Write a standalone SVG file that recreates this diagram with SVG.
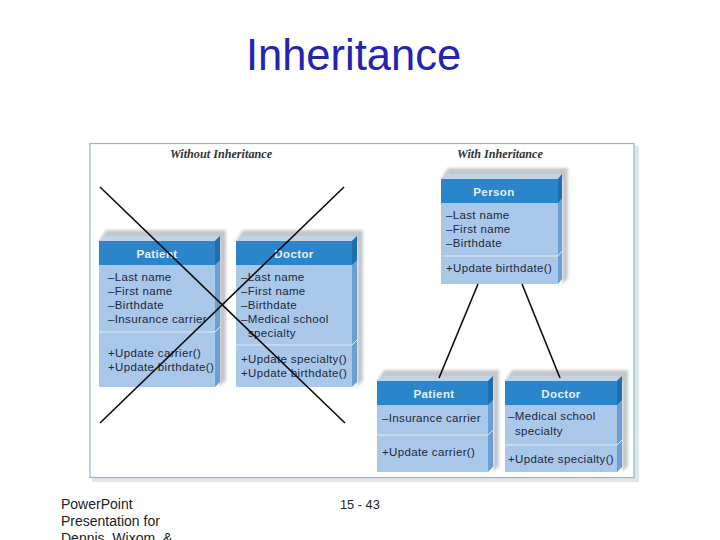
<svg xmlns="http://www.w3.org/2000/svg" width="720" height="540" viewBox="0 0 720 540">
<style>
.t{font-family:"Liberation Sans",Arial,sans-serif}
.hd{font-family:"Liberation Sans",Arial,sans-serif;font-size:11.5px;font-weight:bold;fill:#e4f0fa;text-anchor:middle;letter-spacing:.4px}
.b{font-family:"Liberation Sans",Arial,sans-serif;font-size:11.5px;fill:#20283a;letter-spacing:.35px}
.cap{font-family:"Liberation Serif",serif;font-size:12.2px;font-style:italic;font-weight:bold;fill:#333;text-anchor:middle}
.face{fill:#a9c7e9}.head{fill:#2b85cb}.side{fill:#6a9fd2}.sideh{fill:#1f6fb0}.top{fill:#c3d3e6}
.sh{fill:#c4c7ca;filter:url(#bl)}
.div{stroke:#dfeaf6;stroke-width:1;fill:none}
.x{stroke:#0c0c0c;stroke-width:1.6;fill:none}
.c{stroke:#0c0c0c;stroke-width:1.6;fill:none}
</style>
<defs>
<filter id="bl" x="-20%" y="-20%" width="140%" height="140%"><feGaussianBlur stdDeviation="1.6"/></filter>
</defs>
<rect width="720" height="540" fill="#fff"/>
<text class="t" x="353.500" y="70" font-size="43.500" fill="#2424b0" text-anchor="middle">Inheritance</text>
<g id="panel">
<rect x="92" y="146" width="547" height="336" fill="#dfe6ea"/>
<rect x="90" y="143.500" width="544" height="334" fill="#fff" stroke="#8fb9c6" stroke-width="1.2"/>
<text class="cap" x="221" y="158">Without Inheritance</text>
<text class="cap" x="500" y="158">With Inheritance</text>
</g>
<g id="patient-a">
<path class="sh" d="M106 230H226V380L219 387V241H99Z"/>
<path class="top" d="M99 241L104 236H220L215 241Z"/>
<rect class="face" x="99" y="241" width="116" height="146"/>
<rect class="head" x="99" y="241" width="116" height="24"/>
<path class="side" d="M215 241L220 236V382L215 387Z"/>
<path class="sideh" d="M215 241L220 236V260L215 265Z"/>
<path class="div" d="M99 332H215L220 327"/>
<text class="hd" x="157" y="258">Patient</text>
<text class="b" x="108" y="281">–Last name</text>
<text class="b" x="108" y="295">–First name</text>
<text class="b" x="108" y="309">–Birthdate</text>
<text class="b" x="108" y="323">–Insurance carrier</text>
<text class="b" x="108" y="357">+Update carrier()</text>
<text class="b" x="108" y="371">+Update birthdate()</text>
</g>
<g id="doctor-a">
<path class="sh" d="M243 230H363V380L357 387V241H236Z"/>
<path class="top" d="M236 241L241 236H357L352 241Z"/>
<rect class="face" x="236" y="241" width="116" height="146"/>
<rect class="head" x="236" y="241" width="116" height="24"/>
<path class="side" d="M352 241L357 236V382L352 387Z"/>
<path class="sideh" d="M352 241L357 236V260L352 265Z"/>
<path class="div" d="M236 345H352L357 340"/>
<text class="hd" x="294" y="258">Doctor</text>
<text class="b" x="241" y="281">–Last name</text>
<text class="b" x="241" y="295">–First name</text>
<text class="b" x="241" y="309">–Birthdate</text>
<text class="b" x="241" y="323">–Medical school</text>
<text class="b" x="248" y="337">specialty</text>
<text class="b" x="241" y="363">+Update specialty()</text>
<text class="b" x="241" y="377">+Update birthdate()</text>
</g>
<g id="person">
<path class="sh" d="M448 168H568V278L562 284V179H441Z"/>
<path class="top" d="M441 179L446 174H562L557 179Z"/>
<rect class="face" x="441" y="179" width="117" height="105"/>
<rect class="head" x="441" y="179" width="117" height="24"/>
<path class="side" d="M558 179L562 174V279L558 284Z"/>
<path class="sideh" d="M558 179L562 174V198L558 203Z"/>
<path class="div" d="M441 256H558L562 251"/>
<text class="hd" x="494" y="196">Person</text>
<text class="b" x="446" y="219">–Last name</text>
<text class="b" x="446" y="233">–First name</text>
<text class="b" x="446" y="247">–Birthdate</text>
<text class="b" x="446" y="272">+Update birthdate()</text>
</g>
<g id="patient-b">
<path class="sh" d="M384 370H499V466L493 472V381H377Z"/>
<path class="top" d="M377 381L382 376H493L488 381Z"/>
<rect class="face" x="377" y="381" width="111" height="91"/>
<rect class="head" x="377" y="381" width="111" height="24"/>
<path class="side" d="M488 381L493 376V467L488 472Z"/>
<path class="sideh" d="M488 381L493 376V400L488 405Z"/>
<path class="div" d="M377 435H488L493 430"/>
<text class="hd" x="434" y="398">Patient</text>
<text class="b" x="382" y="422">–Insurance carrier</text>
<text class="b" x="382" y="456">+Update carrier()</text>
</g>
<g id="doctor-b">
<path class="sh" d="M512 370H628V466L622 472V381H505Z"/>
<path class="top" d="M505 381L510 376H622L617 381Z"/>
<rect class="face" x="505" y="381" width="112" height="91"/>
<rect class="head" x="505" y="381" width="112" height="24"/>
<path class="side" d="M617 381L622 376V467L617 472Z"/>
<path class="sideh" d="M617 381L622 376V400L617 405Z"/>
<path class="div" d="M505 445H617L622 440"/>
<text class="hd" x="561" y="398">Doctor</text>
<text class="b" x="508" y="420">–Medical school</text>
<text class="b" x="515" y="435">specialty</text>
<text class="b" x="508" y="463">+Update specialty()</text>
</g>
<g id="connectors">
<path class="x" d="M100 187L345 423"/>
<path class="x" d="M344 187L100 423"/>
<path class="c" d="M478 284L439 378"/>
<path class="c" d="M522 284L560 378"/>
</g>
<g id="footer">
<text class="t" x="61" y="509" font-size="14" fill="#222">PowerPoint</text>
<text class="t" x="61" y="526" font-size="14" fill="#222">Presentation for</text>
<text class="t" x="61" y="543" font-size="14" fill="#222">Dennis, Wixom, &amp;</text>
<text class="t" x="340" y="509" font-size="12.800" fill="#222">15 - 43</text>
</g>
</svg>
